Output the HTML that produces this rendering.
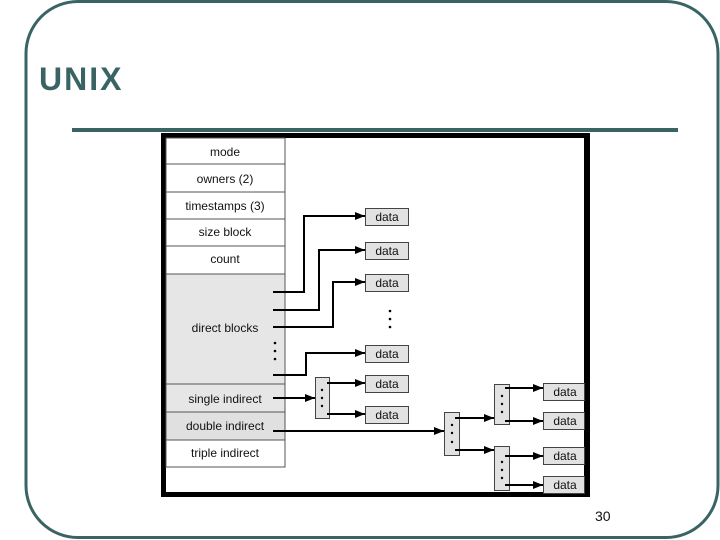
<!DOCTYPE html>
<html><head><meta charset="utf-8"><style>
html,body{margin:0;padding:0;background:#fff;width:720px;height:540px;overflow:hidden}
svg{display:block}
</style></head><body>
<svg width="720" height="540" xmlns="http://www.w3.org/2000/svg" font-family="Liberation Sans, Arial, sans-serif">
<defs><marker id="a" markerWidth="10" markerHeight="8" refX="10" refY="4" orient="auto" markerUnits="userSpaceOnUse"><path d="M0,0 L10,4 L0,8 z" fill="#000"/></marker></defs>
<rect x="26" y="1.5" width="692" height="536" rx="52" fill="none" stroke="#3a6464" stroke-width="3"/>
<text x="39" y="90" font-size="32" font-weight="bold" fill="#3a6464" letter-spacing="2">UNIX</text>
<rect x="72" y="128" width="606" height="4" fill="#3a6464"/>
<rect x="163.5" y="135.5" width="424" height="359" fill="#fff" stroke="#000" stroke-width="5"/>
<rect x="584" y="133" width="6" height="364" fill="#000"/>
<g stroke="#555" stroke-width="1">
<rect x="166" y="274" width="119" height="110" fill="#e6e6e6"/>
<rect x="166" y="384" width="119" height="28" fill="#e6e6e6"/>
<rect x="166" y="412" width="119" height="28" fill="#e0e0e0"/>
<rect x="166" y="138" width="119" height="329" fill="none"/>
<line x1="166" y1="164" x2="285" y2="164"/><line x1="166" y1="192" x2="285" y2="192"/>
<line x1="166" y1="219" x2="285" y2="219"/><line x1="166" y1="246" x2="285" y2="246"/>
</g>
<g font-size="12" text-anchor="middle" fill="#111">
<text x="225" y="156">mode</text><text x="225" y="183">owners (2)</text>
<text x="225" y="210">timestamps (3)</text><text x="225" y="236">size block</text>
<text x="225" y="263">count</text><text x="225" y="332">direct blocks</text>
<text x="225" y="403">single indirect</text><text x="225" y="430">double indirect</text>
<text x="225" y="457">triple indirect</text>
</g>
<g fill="#e2e2e2" stroke="#444">
<rect x="365.5" y="208.5" width="43" height="17"/><rect x="365.5" y="242.5" width="43" height="17"/>
<rect x="365.5" y="274.5" width="43" height="17"/><rect x="365.5" y="345.5" width="43" height="17"/>
<rect x="365.5" y="375.5" width="43" height="17"/><rect x="365.5" y="406.5" width="43" height="17"/>
<rect x="543.5" y="383.5" width="41" height="17"/><rect x="543.5" y="412.5" width="41" height="17"/>
<rect x="543.5" y="447.5" width="41" height="17"/><rect x="543.5" y="476.5" width="41" height="17"/>
<rect x="315.5" y="377.5" width="14" height="41"/>
<rect x="444.5" y="412.5" width="15" height="43"/>
<rect x="494.5" y="384.5" width="15" height="40"/>
<rect x="494.5" y="446.5" width="15" height="44"/>
</g>
<g font-size="12" text-anchor="middle" fill="#111">
<text x="387" y="221">data</text><text x="387" y="255">data</text><text x="387" y="287">data</text>
<text x="387" y="358">data</text><text x="387" y="388">data</text><text x="387" y="419">data</text>
<text x="565" y="396">data</text><text x="565" y="425">data</text><text x="565" y="460">data</text><text x="565" y="489">data</text>
</g>
<g stroke="#000" stroke-width="2" fill="none" marker-end="url(#a)">
<polyline points="273,292 304,292 304,216 365,216"/>
<polyline points="273,310 319,310 319,250 365,250"/>
<polyline points="273,327 333,327 333,282 365,282"/>
<polyline points="273,375 306,375 306,353 365,353"/>
<polyline points="273,398 315,398"/>
<polyline points="327,383 365,383"/>
<polyline points="327,414 365,414"/>
<polyline points="273,431 444,431"/>
<polyline points="455,418 494,418"/>
<polyline points="455,450 494,450"/>
<polyline points="505,388 543,388"/>
<polyline points="505,421 543,421"/>
<polyline points="505,456 543,456"/>
<polyline points="505,485 543,485"/>
</g>
<g fill="#000">
<circle cx="275" cy="343" r="1.3"/><circle cx="275" cy="351" r="1.3"/><circle cx="275" cy="359" r="1.3"/>
<circle cx="390" cy="311" r="1.3"/><circle cx="390" cy="319" r="1.3"/><circle cx="390" cy="327" r="1.3"/>
<circle cx="322" cy="390" r="1.2"/><circle cx="322" cy="398" r="1.2"/><circle cx="322" cy="406" r="1.2"/>
<circle cx="452" cy="425" r="1.2"/><circle cx="452" cy="433" r="1.2"/><circle cx="452" cy="442" r="1.2"/>
<circle cx="502" cy="396" r="1.2"/><circle cx="502" cy="404" r="1.2"/><circle cx="502" cy="412" r="1.2"/>
<circle cx="502" cy="462" r="1.2"/><circle cx="502" cy="470" r="1.2"/><circle cx="502" cy="478" r="1.2"/>
</g>
<text x="595" y="521" font-size="14" fill="#111">30</text>
</svg>
</body></html>
